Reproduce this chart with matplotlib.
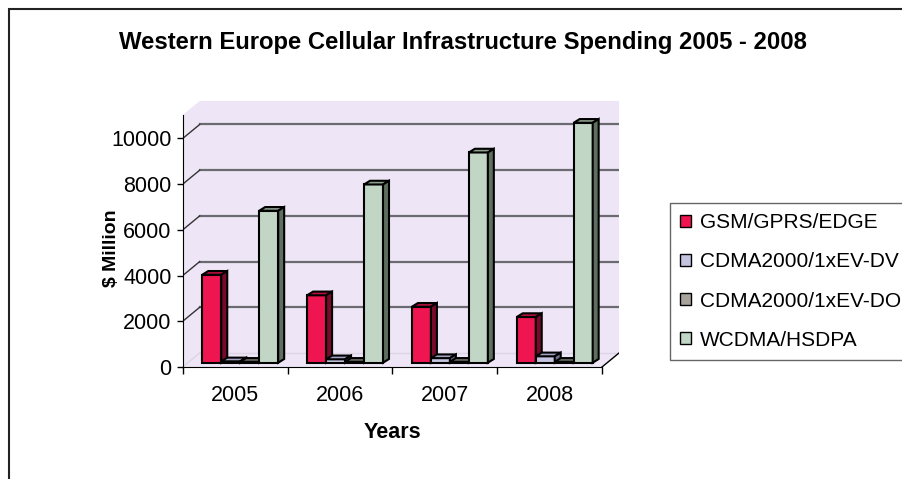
import matplotlib.pyplot as plt
from matplotlib.patches import Polygon, Rectangle, Patch
import numpy as np

plt.rcParams['font.family'] = ['Liberation Sans', 'DejaVu Sans']

# data ($ million)
years = ['2005', '2006', '2007', '2008']
series = ['GSM/GPRS/EDGE', 'CDMA2000/1xEV-DV', 'CDMA2000/1xEV-DO', 'WCDMA/HSDPA']
gsm = [3850, 2950, 2450, 2000]
cdma_dv = [60, 150, 200, 280]
cdma_do = [40, 40, 40, 40]
wcdma = [6650, 7800, 9200, 10500]
values = [gsm, cdma_dv, cdma_do, wcdma]
yticks = [0, 2000, 4000, 6000, 8000, 10000]

# face colours: front, top, side
front = ['#ee1550', '#c4c4e0', '#8c8a80', '#c2d6c6']
top = ['#b8103e', '#a2a2c2', '#707068', '#8ea08e']
side = ['#7a0a2c', '#707090', '#404838', '#5e6e60']
legend_col = ['#ee1550', '#c4c4e0', '#a8a49c', '#c2d6c6']

# fake 3d geometry (data units)
wall_dx, wall_dy = 0.162, 613
off_x, off_y = 0.049, 188
bar_w = 0.181
bar_dx, bar_dy = 0.057, 162
margin = (1 - 4 * bar_w) / 2
ytop = 11028

fs = 15.5

fig = plt.figure(figsize=(9.02, 4.79), dpi=100)
ax = fig.add_axes([182.7 / 902, 112 / 479, 436.3 / 902, 266 / 479])
ax.set_xlim(0, 4 + wall_dx)
ax.set_ylim(0, ytop + wall_dy)
ax.patch.set_visible(False)

# walls and floor
wall = Polygon([(0, 0), (0, ytop), (wall_dx, ytop + wall_dy), (4 + wall_dx, ytop + wall_dy),
                (4 + wall_dx, wall_dy), (4, 0)], closed=True, facecolor='#eee6f6',
               edgecolor='none', zorder=0)
ax.add_patch(wall)
ax.plot([wall_dx, 4 + wall_dx], [wall_dy, wall_dy], color='#dcd6e4', lw=1, zorder=1)
ax.plot([0, wall_dx], [0, wall_dy], color='#dcd6e4', lw=1, zorder=1)

# gridlines on back wall and stubs on side wall
for v in yticks[1:]:
    ax.plot([wall_dx, 4 + wall_dx], [v + wall_dy, v + wall_dy], color='#6a6a70', lw=1.6, zorder=1)
    ax.plot([0, wall_dx], [v, v + wall_dy], color='#333333', lw=1, zorder=1)

# bars
for j in range(len(years)):
    for i in range(len(series)):
        v = values[i][j]
        x0 = j + margin + off_x + i * bar_w
        ax.bar(x0, v, width=bar_w, bottom=off_y, align='edge', color=front[i],
               edgecolor='black', linewidth=1.5, zorder=3 + j * 4 + i)
        y1 = off_y + v
        ax.add_patch(Polygon([(x0, y1), (x0 + bar_dx, y1 + bar_dy),
                              (x0 + bar_w + bar_dx, y1 + bar_dy), (x0 + bar_w, y1)],
                             closed=True, facecolor=top[i], edgecolor='black',
                             linewidth=1.5, zorder=3 + j * 4 + i))
        ax.add_patch(Polygon([(x0 + bar_w, off_y), (x0 + bar_w, y1),
                              (x0 + bar_w + bar_dx, y1 + bar_dy),
                              (x0 + bar_w + bar_dx, off_y + bar_dy)],
                             closed=True, facecolor=side[i], edgecolor='black',
                             linewidth=1.5, zorder=3 + j * 4 + i))

# axes lines
for s in ['top', 'right']:
    ax.spines[s].set_visible(False)
ax.spines['left'].set_bounds(0, ytop)
ax.spines['bottom'].set_bounds(0, 4)
ax.spines['left'].set_zorder(50)
ax.spines['bottom'].set_zorder(50)
ax.plot([4, 4 + wall_dx], [0, wall_dy], color='black', lw=1, zorder=50)

ax.set_yticks(yticks)
ax.set_yticklabels([str(v) for v in yticks])
ax.tick_params(axis='y', direction='out', length=4, width=1, pad=4, labelsize=fs)
ax.set_xticks(np.arange(0, 5))
ax.set_xticklabels([])
ax.set_xticks(np.arange(len(years)) + 0.5, minor=True)
ax.set_xticklabels(years, minor=True)
ax.tick_params(axis='x', which='major', direction='out', length=5, width=1)
ax.tick_params(axis='x', which='minor', length=0, pad=13, labelsize=fs)

ax.set_xlabel('Years', fontsize=fs, fontweight='bold', va='center')
ax.xaxis.set_label_coords((392 - 182.7) / 436.3, (367 - 433) / 266)
ax.set_ylabel('$ Million', fontsize=14, fontweight='bold', va='center')
ax.yaxis.set_label_coords((112 - 182.7) / 436.3, (367 - 248) / 266)

fig.text(463 / 902, 1 - 42 / 479, 'Western Europe Cellular Infrastructure Spending 2005 - 2008',
         ha='center', va='center', fontsize=17.2, fontweight='bold')

handles = [Patch(facecolor=c, edgecolor='black', linewidth=1) for c in legend_col]
fig.legend(handles, series, loc='upper left', bbox_to_anchor=(670 / 902, 1 - 202.7 / 479),
           borderaxespad=0, frameon=True, fancybox=False, edgecolor='#666666',
           fontsize=15, handlelength=0.5, handleheight=0.5, handletextpad=0.45,
           labelspacing=0.97, borderpad=0.5, framealpha=1)

# chart border
fig.patches.append(Rectangle((8.5 / 902, -0.05), 1.0, 1 - 9 / 479 + 0.05,
                             transform=fig.transFigure, fill=False,
                             edgecolor='#222222', linewidth=1.5))

fig.savefig('out.png', dpi=100)
